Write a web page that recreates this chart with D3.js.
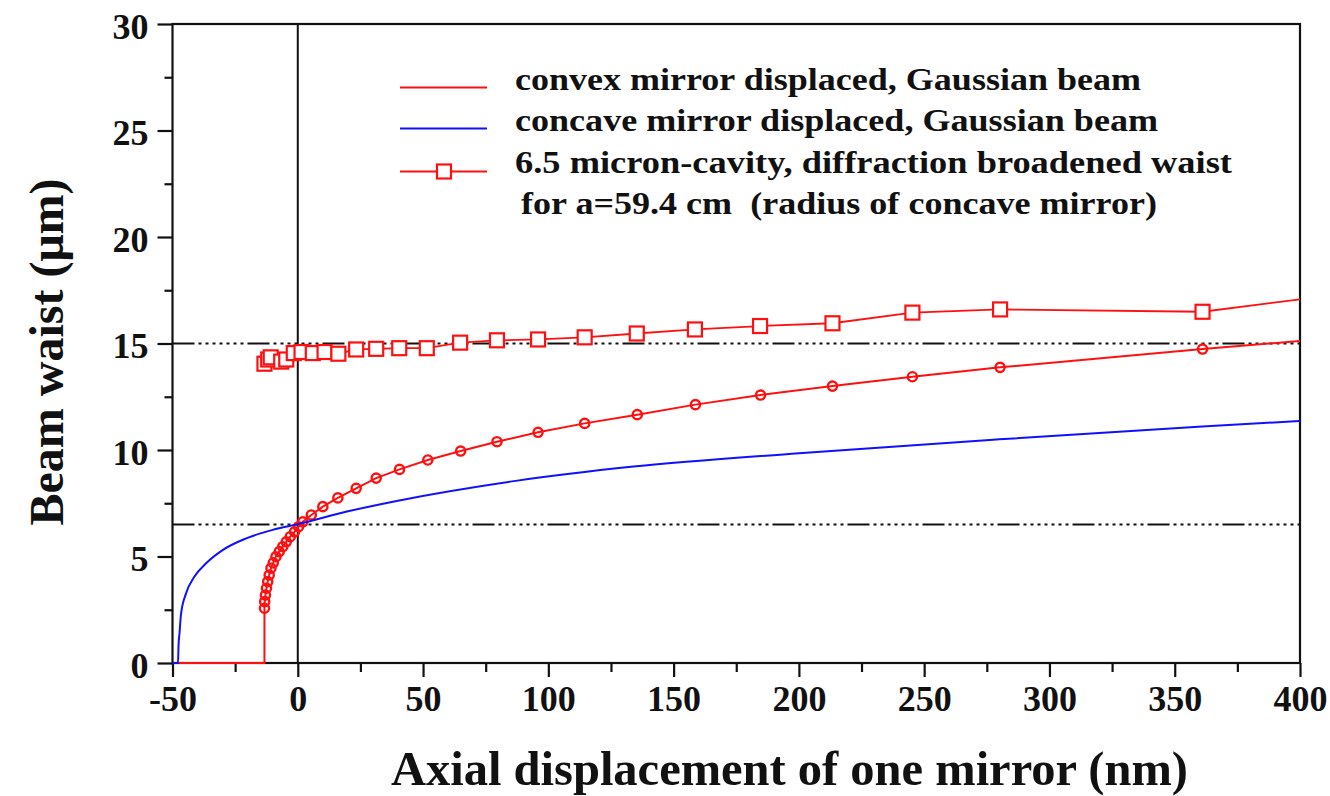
<!DOCTYPE html>
<html>
<head>
<meta charset="utf-8">
<script src="https://cdn.jsdelivr.net/npm/d3@7/dist/d3.min.js"></script>
<style>
  html, body { margin: 0; padding: 0; background: #fff; }
  svg { display: block; }
  text { font-family: "Liberation Serif", "Times New Roman", serif; font-weight: bold; fill: #111; }
</style>
</head>
<body>
<svg id="chart" width="1330" height="796"></svg>
<script>
// Axis ticks
const xMajorTicks = [-50, 0, 50, 100, 150, 200, 250, 300, 350, 400];
const xMinorTicks = [-25, 25, 75, 125, 175, 225, 275, 325, 375];
const yMajorTicks = [0, 5, 10, 15, 20, 25, 30];
const yMinorTicks = [2.5, 7.5, 12.5, 17.5, 22.5, 27.5];

// Horizontal reference levels (µm)
const refLevels = [15, 6.5];

// Convex mirror displaced, Gaussian beam (red, circle markers)
const convexX = [-47.5, -13.3, -13.3, -13.2, -12.9, -12.5, -12.0, -11.4, -10.7, -9.8, -8.7, -7.4, -6.0, -4.6, -3.0, -1.3, 0.3, 2.0, 5.4, 10.0, 16.0, 23.3, 31.3, 40.6, 51.9, 65.0, 79.5, 95.9, 114.5, 135.5, 158.7, 184.7, 213.4, 245.3, 280.3, 361.1, 400];
const convexY = [0, 0, 2.57, 2.88, 3.19, 3.51, 3.82, 4.13, 4.45, 4.70, 4.99, 5.23, 5.46, 5.69, 5.93, 6.16, 6.40, 6.63, 6.95, 7.34, 7.75, 8.20, 8.68, 9.09, 9.53, 9.95, 10.39, 10.83, 11.25, 11.66, 12.13, 12.58, 13.00, 13.44, 13.88, 14.74, 15.12];
const convexMarked = [0, 0, 1, 1, 1, 1, 1, 1, 1, 1, 1, 1, 1, 1, 1, 1, 1, 1, 1, 1, 1, 1, 1, 1, 1, 1, 1, 1, 1, 1, 1, 1, 1, 1, 1, 1, 0];

// Concave mirror displaced, Gaussian beam (blue)
const concaveX = [-50, -47.8, -47.6, -47.2, -46.6, -44.6, -41.3, -36.6, -30, -20.6, -10, 0, 20, 40, 87, 134, 200, 280, 361, 400];
const concaveY = [0, 0, 0.8, 1.4, 2.3, 3.27, 4.05, 4.68, 5.3, 5.85, 6.25, 6.52, 7.12, 7.62, 8.55, 9.22, 9.85, 10.5, 11.1, 11.36];

// 6.5 micron cavity, diffraction broadened waist (red, square markers)
const cavityX = [-13.3, -11.8, -10.8, -6.6, -4.6, -1.6, 1.5, 6.0, 10.7, 16.2, 23.3, 31.3, 40.5, 51.5, 64.8, 79.5, 95.9, 114.5, 135.3, 158.5, 184.5, 213.4, 245.3, 280.3, 361.1, 400];
const cavityY = [14.05, 14.25, 14.35, 14.15, 14.25, 14.55, 14.6, 14.55, 14.6, 14.52, 14.72, 14.75, 14.78, 14.78, 15.04, 15.15, 15.19, 15.29, 15.47, 15.66, 15.82, 15.95, 16.45, 16.6, 16.49, 17.07];
const cavityMarked = [1, 1, 1, 1, 1, 1, 1, 1, 1, 1, 1, 1, 1, 1, 1, 1, 1, 1, 1, 1, 1, 1, 1, 1, 1, 0];

// Legend entries
const legendLabels = [
  "convex mirror displaced, Gaussian beam",
  "concave mirror displaced, Gaussian beam",
  "6.5 micron-cavity, diffraction broadened waist",
  " for a=59.4 cm  (radius of concave mirror)"
];

const xTitle = "Axial displacement of one mirror (nm)";
const yTitle = "Beam waist (\u03BCm)";

const RED = "#ff1010";
const BLUE = "#1010ff";

const svg = d3.select("#chart");
const m = { left: 172.5, right: 1300, top: 24, bottom: 663 };

const x = d3.scaleLinear().domain([-50, 400]).range([m.left, m.right]);
const y = d3.scaleLinear().domain([0, 30]).range([m.bottom, m.top]);

// frame
svg.append("rect")
  .attr("x", m.left).attr("y", m.top)
  .attr("width", m.right - m.left).attr("height", m.bottom - m.top)
  .attr("fill", "none").attr("stroke", "#111").attr("stroke-width", 2.2);

// x axis
const xAxis = svg.append("g").attr("transform", `translate(0,${m.bottom})`)
  .call(d3.axisBottom(x).tickValues(xMajorTicks).tickSize(14).tickPadding(8).tickFormat(d3.format("d")));
const xMinor = svg.append("g").attr("transform", `translate(0,${m.bottom})`)
  .call(d3.axisBottom(x).tickValues(xMinorTicks).tickSize(9).tickFormat(""));

// y axis
const yAxis = svg.append("g").attr("transform", `translate(${m.left},0)`)
  .call(d3.axisLeft(y).tickValues(yMajorTicks).tickSize(15).tickPadding(9).tickFormat(d3.format("d")));
const yMinor = svg.append("g").attr("transform", `translate(${m.left},0)`)
  .call(d3.axisLeft(y).tickValues(yMinorTicks).tickSize(8).tickFormat(""));

[xAxis, xMinor, yAxis, yMinor].forEach(g => {
  g.select(".domain").remove();
  g.selectAll(".tick line").attr("stroke", "#111").attr("stroke-width", 2.2);
  g.selectAll("text").attr("font-family", null).attr("font-size", null)
    .style("font-size", "36px").attr("fill", "#111");
});
xAxis.selectAll("text").text(d => d < 0 ? "-" + Math.abs(d) : d);
yAxis.selectAll("text").attr("dy", "0.39em");

const plot = svg.append("g");

// dash-dot-dot reference lines
plot.selectAll("line.ref").data(refLevels).join("line")
  .attr("class", "ref")
  .attr("x1", x(-50)).attr("x2", x(400))
  .attr("y1", d => y(d)).attr("y2", d => y(d))
  .attr("stroke", "#111").attr("stroke-width", 2)
  .attr("stroke-dasharray", "22 4 3 4 3 4 3 4 3 4 3 4 3 4 3 4");

// vertical line at zero displacement
plot.append("line")
  .attr("x1", x(0)).attr("x2", x(0))
  .attr("y1", y(0)).attr("y2", y(30))
  .attr("stroke", "#111").attr("stroke-width", 2);

function pts(xs, ys) { return xs.map((v, i) => [v, ys[i]]); }

const lineGen = d3.line().x(d => x(d[0])).y(d => y(d[1]));

// convex curve
const convexPts = pts(convexX, convexY);
plot.append("path")
  .attr("d", lineGen(convexPts))
  .attr("fill", "none").attr("stroke", RED).attr("stroke-width", 2);
plot.selectAll("circle.cvx").data(convexPts.filter((d, i) => convexMarked[i])).join("circle")
  .attr("class", "cvx")
  .attr("cx", d => x(d[0])).attr("cy", d => y(d[1])).attr("r", 4.6)
  .attr("fill", "none").attr("stroke", RED).attr("stroke-width", 2.4);

// concave curve
const concavePts = pts(concaveX, concaveY);
plot.append("path")
  .attr("d", d3.line().x(d => x(d[0])).y(d => y(d[1])).curve(d3.curveMonotoneX)(concavePts))
  .attr("fill", "none").attr("stroke", BLUE).attr("stroke-width", 2);

// cavity curve with square markers
const cavityPts = pts(cavityX, cavityY);
plot.append("path")
  .attr("d", lineGen(cavityPts))
  .attr("fill", "none").attr("stroke", RED).attr("stroke-width", 1.8);
const sq = 14;
plot.selectAll("rect.cav").data(cavityPts.filter((d, i) => cavityMarked[i])).join("rect")
  .attr("class", "cav")
  .attr("x", d => x(d[0]) - sq / 2).attr("y", d => y(d[1]) - sq / 2)
  .attr("width", sq).attr("height", sq)
  .attr("fill", "#fff").attr("stroke", RED).attr("stroke-width", 2.2);

// axis titles
svg.append("text")
  .attr("x", 391).attr("y", 785)
  .style("font-size", "48px")
  .attr("textLength", 797).attr("lengthAdjust", "spacingAndGlyphs")
  .text(xTitle);
svg.append("text")
  .attr("transform", `translate(63,${352}) rotate(-90)`)
  .attr("text-anchor", "middle").style("font-size", "48px")
  .text(yTitle);

// legend
const legend = svg.append("g");
const legY = [87.5, 128.5, 171.5];
const legBase = [90, 131, 173, 214];
const legLen = [626, 643, 717, 645];
const legX = [515, 515, 515, 512];
legend.append("line").attr("x1", 400).attr("x2", 487).attr("y1", legY[0]).attr("y2", legY[0])
  .attr("stroke", RED).attr("stroke-width", 2);
legend.append("line").attr("x1", 400).attr("x2", 487).attr("y1", legY[1]).attr("y2", legY[1])
  .attr("stroke", BLUE).attr("stroke-width", 2);
legend.append("line").attr("x1", 400).attr("x2", 487).attr("y1", legY[2]).attr("y2", legY[2])
  .attr("stroke", RED).attr("stroke-width", 2);
legend.append("rect").attr("x", 444 - sq / 2).attr("y", legY[2] - sq / 2)
  .attr("width", sq).attr("height", sq)
  .attr("fill", "#fff").attr("stroke", RED).attr("stroke-width", 2.2);
legend.selectAll("text").data(legendLabels).join("text")
  .attr("x", (d, i) => legX[i]).attr("y", (d, i) => legBase[i])
  .style("font-size", "31px").style("white-space", "pre")
  .attr("textLength", (d, i) => legLen[i])
  .attr("lengthAdjust", "spacingAndGlyphs")
  .text(d => d);
</script>
</body>
</html>
